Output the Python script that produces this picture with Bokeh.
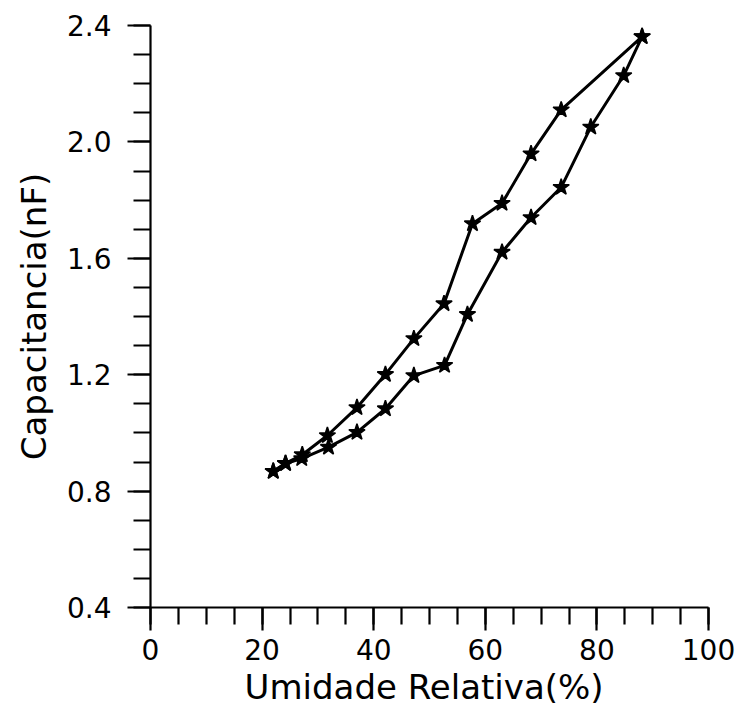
from bokeh.plotting import figure
from bokeh.models import Range1d, FixedTicker
from bokeh.embed import file_html
from bokeh.resources import INLINE

# Upper branch (higher capacitance)
upper_x = [22.0, 24.2, 27.2, 31.7, 37.0, 42.1, 47.2, 52.6, 57.7, 63.0, 68.2, 73.6, 88.1]
upper_y = [0.868, 0.895, 0.925, 0.991, 1.087, 1.201, 1.324, 1.444, 1.719, 1.789, 1.959, 2.110, 2.362]

# Lower branch
lower_x = [22.0, 24.2, 27.1, 31.9, 37.0, 42.1, 47.2, 52.7, 56.8, 63.0, 68.2, 73.6, 78.9, 84.8, 88.1]
lower_y = [0.868, 0.895, 0.912, 0.951, 1.002, 1.083, 1.197, 1.232, 1.407, 1.621, 1.740, 1.844, 2.051, 2.228, 2.362]

x_major = [0, 20, 40, 60, 80, 100]
x_minor = [v for v in range(0, 101, 5)]
y_major = [0.4, 0.8, 1.2, 1.6, 2.0, 2.4]
y_minor = [round(0.4 + 0.1 * i, 1) for i in range(21)]

FONT = "DejaVu Sans"

p = figure(width=735, height=708, frame_width=558, frame_height=582,
           x_range=Range1d(0, 100), y_range=Range1d(0.4, 2.4),
           output_backend="svg", toolbar_location=None,
           min_border_left=150, min_border_right=27,
           min_border_top=25, min_border_bottom=101)

p.outline_line_color = None
p.grid.visible = False
p.background_fill_color = "white"
p.border_fill_color = "white"

p.line(upper_x, upper_y, line_color="black", line_width=3)
p.line(lower_x, lower_y, line_color="black", line_width=3)
p.scatter(upper_x, upper_y, marker="star", size=17, fill_color="black", line_color="black", line_width=1.5)
p.scatter(lower_x, lower_y, marker="star", size=17, fill_color="black", line_color="black", line_width=1.5)

for ax in (p.xaxis[0], p.yaxis[0]):
    ax.axis_line_color = "black"
    ax.axis_line_width = 2.2
    ax.major_tick_line_color = "black"
    ax.major_tick_line_width = 2.2
    ax.minor_tick_line_color = "black"
    ax.minor_tick_line_width = 2.2
    ax.major_tick_in = 0
    ax.minor_tick_in = 0
    ax.major_tick_out = 23
    ax.minor_tick_out = 17
    ax.major_label_text_font = FONT
    ax.major_label_text_font_size = "28px"
    ax.major_label_text_color = "black"
    ax.axis_label_text_font = FONT
    ax.axis_label_text_font_style = "normal"
    ax.axis_label_text_font_size = "34px"
    ax.axis_label_text_color = "black"

p.xaxis.ticker = FixedTicker(ticks=x_major, minor_ticks=x_minor)
p.yaxis.ticker = FixedTicker(ticks=y_major, minor_ticks=y_minor)
p.xaxis.major_label_overrides = {v: str(v) for v in x_major}
p.yaxis.major_label_overrides = {v: f"{v:.1f}" for v in y_major}
p.xaxis.axis_label = "Umidade  Relativa(%)"
p.yaxis.axis_label = "Capacitancia(nF)"
p.xaxis.major_label_standoff = 8
p.yaxis.major_label_standoff = 16
p.xaxis.axis_label_standoff = 4
p.yaxis.axis_label_standoff = 10

open("out.html", "w").write(file_html(p, INLINE))
